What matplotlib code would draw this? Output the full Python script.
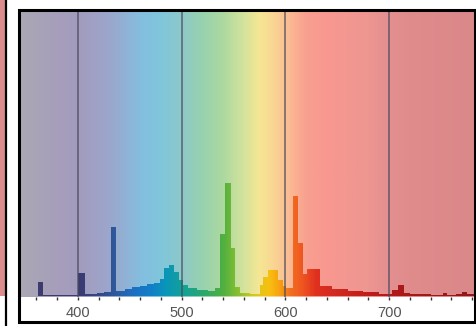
import numpy as np
import matplotlib.pyplot as plt
from matplotlib.colors import LinearSegmentedColormap
from matplotlib.patches import Rectangle

# spectrum steps: bin edges (nm) and relative intensity per bin
edges = [344, 361, 366, 400, 407, 418, 425, 432, 437, 445, 452, 460, 467,
         473, 479, 483, 488, 493, 497, 501, 506, 515, 525, 532, 537, 542,
         548, 551, 556, 566, 575.5, 578.5, 583, 593, 598, 601, 607, 612.5,
         617, 621, 633, 645, 660, 675, 690, 703, 709, 714, 720, 740, 752,
         756, 764, 770, 775, 783]
intensity = [0.5, 14, 0.8, 23, 2, 3, 4, 69, 5, 7, 9, 10, 12,
             13, 17, 28, 31, 24, 16, 11, 8, 6, 5, 8, 62, 113,
             48, 9, 3, 2, 11, 19, 26, 16, 10, 8, 100, 53,
             22, 27, 10, 7, 5, 4, 2.5, 6, 11, 3, 2, 1, 3,
             1.5, 2, 4, 2]

ticks_major = [400, 500, 600, 700]
ticks_minor = list(range(360, 781, 20))

# colour stops (nm, colour) for background and emission fill
bg_stops = [(344, '#aba7b5'), (380, '#a69ebb'), (400, '#a29cbd'), (430, '#9ca6cc'),
            (460, '#84bedf'), (480, '#80c6dc'), (500, '#8ec8c8'), (520, '#98d2ae'),
            (540, '#acd9a0'), (560, '#d4e39c'), (575, '#f5e794'), (590, '#f9d493'),
            (605, '#fbb993'), (620, '#f9a090'), (640, '#f89890'), (680, '#ee9690'),
            (700, '#e49090'), (720, '#e08b8c'), (783, '#db888a')]
fill_stops = [(344, '#3c3c6c'), (400, '#3c3a70'), (420, '#34488a'), (436, '#2e5a9c'),
              (450, '#1f6cc0'), (470, '#1080c8'), (485, '#0a96b8'), (500, '#13a09a'),
              (520, '#2aa870'), (540, '#50b040'), (555, '#8ac030'), (570, '#d8c820'),
              (585, '#f8c010'), (595, '#f8a010'), (605, '#f07020'), (615, '#f05a20'),
              (630, '#e03020'), (650, '#d02820'), (680, '#c01c1c'), (720, '#a81818'),
              (783, '#901818')]


def make_cmap(name, stops):
    lo, hi = stops[0][0], stops[-1][0]
    return LinearSegmentedColormap.from_list(
        name, [((w - lo) / (hi - lo), c) for w, c in stops])


W, H = 477, 326
fig = plt.figure(figsize=(W / 100, H / 100), dpi=100)


def px(x0, y0, x1, y1):
    # pixel box (top-left origin) -> figure fraction rect
    return [x0 / W, 1 - y1 / H, (x1 - x0) / W, (y1 - y0) / H]


xmin, xmax = 344.1, 782.8
ymin, ymax = -1, 285

ax = fig.add_axes(px(20, 11, 475, 297))
grad = np.linspace(xmin, xmax, 600).reshape(1, -1)
ax.imshow(grad, extent=[xmin, xmax, ymin, ymax], aspect='auto',
          cmap=make_cmap('bg', bg_stops), vmin=xmin, vmax=xmax, zorder=0)

patch = ax.stairs(intensity, edges, baseline=0, fill=True, alpha=0, zorder=2)
im = ax.imshow(grad, extent=[xmin, xmax, ymin, ymax], aspect='auto',
               cmap=make_cmap('sp', fill_stops), vmin=xmin, vmax=xmax, zorder=2)
im.set_clip_path(patch)

for t in ticks_major:
    ax.axvline(t, color='#4a4a5a', alpha=0.75, lw=1.2, zorder=3)

ax.set_xlim(xmin, xmax)
ax.set_ylim(ymin, ymax)
ax.set_yticks([])
ax.set_xticks(ticks_major)
ax.set_xticks(ticks_minor, minor=True)
ax.tick_params(axis='x', which='both', length=2.5, width=1, color='#333333',
               direction='out', pad=4, labelsize=10.5, labelcolor='#555555')
for lab in ax.get_xticklabels():
    lab.set_fontfamily('Liberation Sans')
for s in ax.spines.values():
    s.set_visible(False)

# frame around the panel
fig.add_artist(Rectangle((18.5 / W, 1 - 321.5 / H), 457 / W, 312 / H,
                         transform=fig.transFigure, fill=False,
                         edgecolor='black', lw=2.2))

# edge of the neighbouring panel on the left
fig.add_artist(Rectangle((0, 1 - 296 / H), 5.5 / W, 296 / H,
                         transform=fig.transFigure, facecolor='#dc8c8c',
                         edgecolor='none'))
fig.add_artist(Rectangle((6.2 / W, 0), 0, 1, transform=fig.transFigure,
                         fill=False, edgecolor='black', lw=1.6))

fig.savefig('out.png', dpi=100)
